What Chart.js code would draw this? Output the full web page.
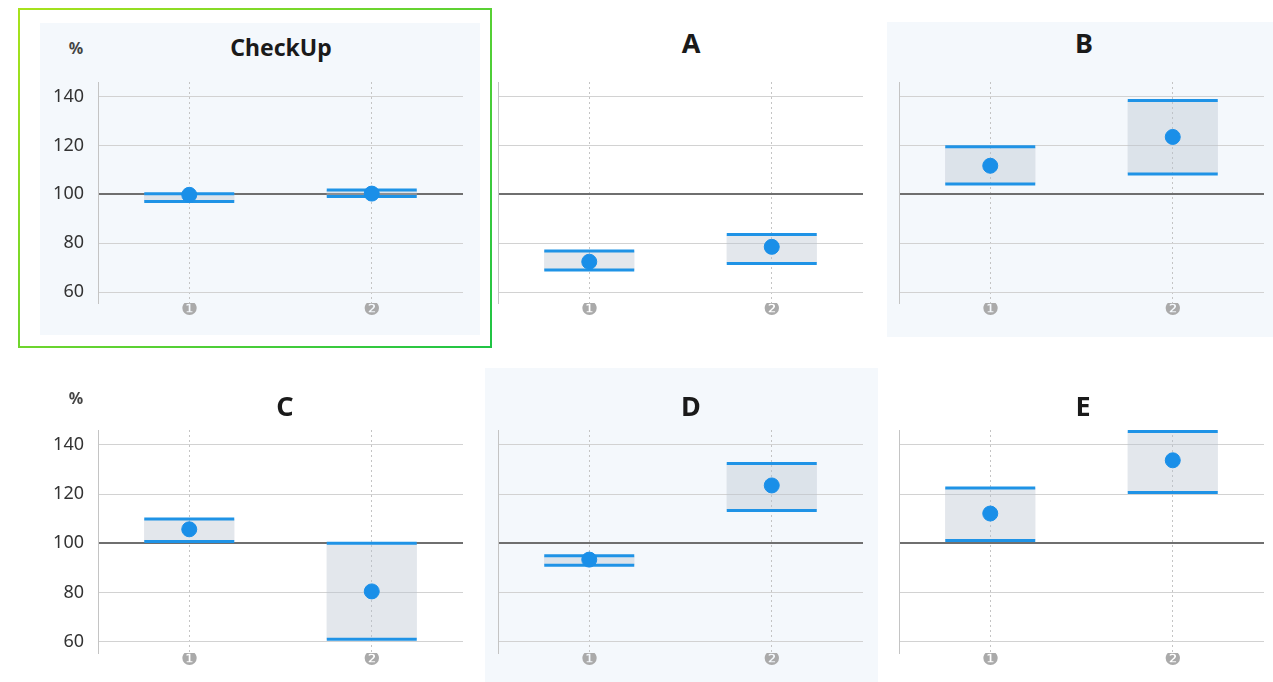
<!DOCTYPE html>
<html>
<head>
<meta charset="utf-8">
<script src="https://cdn.jsdelivr.net/npm/chart.js@4.4.1/dist/chart.umd.min.js"></script>
<style>
body{margin:0;background:#fff;width:1273px;height:682px;overflow:hidden;position:relative;font-family:"Noto Sans",sans-serif;}
.bg{position:absolute;background:#f4f8fc;}
.frame{position:absolute;border:2px solid;border-image:linear-gradient(135deg,#a8e21c,#1fc445) 1;box-sizing:border-box;}
.ttl{position:absolute;transform:translate(-50%,-50%);line-height:1;font-weight:700;color:#1a1a1a;white-space:nowrap;}
.pct{position:absolute;transform:translate(-50%,-50%);line-height:1;font-weight:700;font-size:16px;color:#444;}
canvas{position:absolute;}
</style>
</head>
<body>
<div class="bg" style="left:40px;top:23px;width:440px;height:312px"></div>
<div class="bg" style="left:887px;top:22px;width:386px;height:315px"></div>
<div class="bg" style="left:485px;top:368px;width:393px;height:314px"></div>
<div class="frame" style="left:18px;top:8px;width:474px;height:340px"></div>
<div id="wrap"></div>
<script>
// data
const categories=['\u2776','\u2777'];
const panelTitles=['CheckUp','A','B','C','D','E'];
const lowValues=[[97.1,99.1],[69.0,71.7],[104.2,108.3],[100.7,61.1],[91.1,113.3],[101.2,120.6]];
const highValues=[[100.2,101.8],[76.8,83.6],[119.5,138.4],[109.9,100.0],[95.0,132.4],[122.5,145.4]];
const pointValues=[[99.8,100.3],[72.4,78.5],[111.7,123.5],[105.7,80.5],[93.4,123.5],[112.1,133.7]];
const yTicks=[60,80,100,120,140];

// layout of the six panels (plot area corners)
const plotBoxes=[
  {x:98,y:82,h:221},{x:498,y:82,h:221},{x:899,y:82,h:221},
  {x:98,y:430,h:223},{x:498,y:430,h:223},{x:899,y:430,h:223}
];
const plotW=365;
const titlePos=[[281,47,23],[691,42,27],[1084,42,27],[285,405,27],[691,405,27],[1083,405,27]];

const blue='#1f93e6';
const wrap=document.getElementById('wrap');

titlePos.forEach(function(p,i){
  const t=document.createElement('div');
  t.className='ttl';
  t.style.left=p[0]+'px';t.style.top=p[1]+'px';t.style.fontSize=p[2]+'px';
  t.textContent=panelTitles[i];
  document.body.appendChild(t);
});
[[76,48],[76,398]].forEach(function(p){
  const t=document.createElement('div');
  t.className='pct';
  t.style.left=p[0]+'px';t.style.top=p[1]+'px';
  t.textContent='%';
  document.body.appendChild(t);
});

function noPad(s){s.paddingTop=0;s.paddingBottom=0;s.paddingLeft=0;s.paddingRight=0;}

function makePanel(i){
  const box=plotBoxes[i];
  const cv=document.createElement('canvas');
  cv.width=plotW+70;cv.height=box.h+40;
  cv.style.left=(box.x-60)+'px';cv.style.top=(box.y-10)+'px';
  wrap.appendChild(cv);
  const showY=(i%3===0);
  const bands=lowValues[i].map((lo,k)=>[lo,highValues[i][k]]);

  new Chart(cv.getContext('2d'),{
    type:'bar',
    data:{
      labels:categories,
      datasets:[
        {type:'line',data:pointValues[i],showLine:false,order:0,
         pointRadius:7.5,pointBackgroundColor:'#1a8fe8',pointBorderColor:'#1a8fe8',pointBorderWidth:1},
        {type:'line',data:highValues[i],showLine:false,order:1,
         pointStyle:'line',pointRadius:45,pointBorderColor:blue,pointBorderWidth:3},
        {type:'line',data:lowValues[i],showLine:false,order:1,
         pointStyle:'line',pointRadius:45,pointBorderColor:blue,pointBorderWidth:3},
        {data:bands,order:2,backgroundColor:'rgba(185,196,207,0.4)',borderWidth:0,
         categoryPercentage:0.5,barPercentage:0.99}
      ]
    },
    options:{
      responsive:false,
      animation:false,
      devicePixelRatio:1,
      layout:{autoPadding:false,padding:{left:0,top:10,right:10,bottom:0}},
      plugins:{legend:{display:false},tooltip:{enabled:false}},
      scales:{
        x:{
          offset:true,
          afterFit:function(s){s.height=30;noPad(s);},
          grid:{offset:false,drawTicks:false,color:'#c4c4c4',lineWidth:1},
          border:{display:false,dash:[2,3]},
          ticks:{padding:-4,color:'#aaaaaa',font:{family:'DejaVu Sans',size:19}}
        },
        y:{
          min:55.5,max:146,
          afterFit:function(s){s.width=60;noPad(s);},
          afterBuildTicks:function(s){s.ticks=yTicks.map(v=>({value:v}));},
          grid:{drawTicks:false,
            color:c=>c.tick&&c.tick.value===100?'#6f6f6f':'#d2d2d2',
            lineWidth:c=>c.tick&&c.tick.value===100?2:1},
          border:{display:true,color:'#c4c4c4',width:1},
          ticks:{display:showY,padding:14,color:'#333',font:{family:'Noto Sans',size:18}}
        }
      }
    }
  });
}
for(let i=0;i<6;i++) makePanel(i);
</script>
</body>
</html>
